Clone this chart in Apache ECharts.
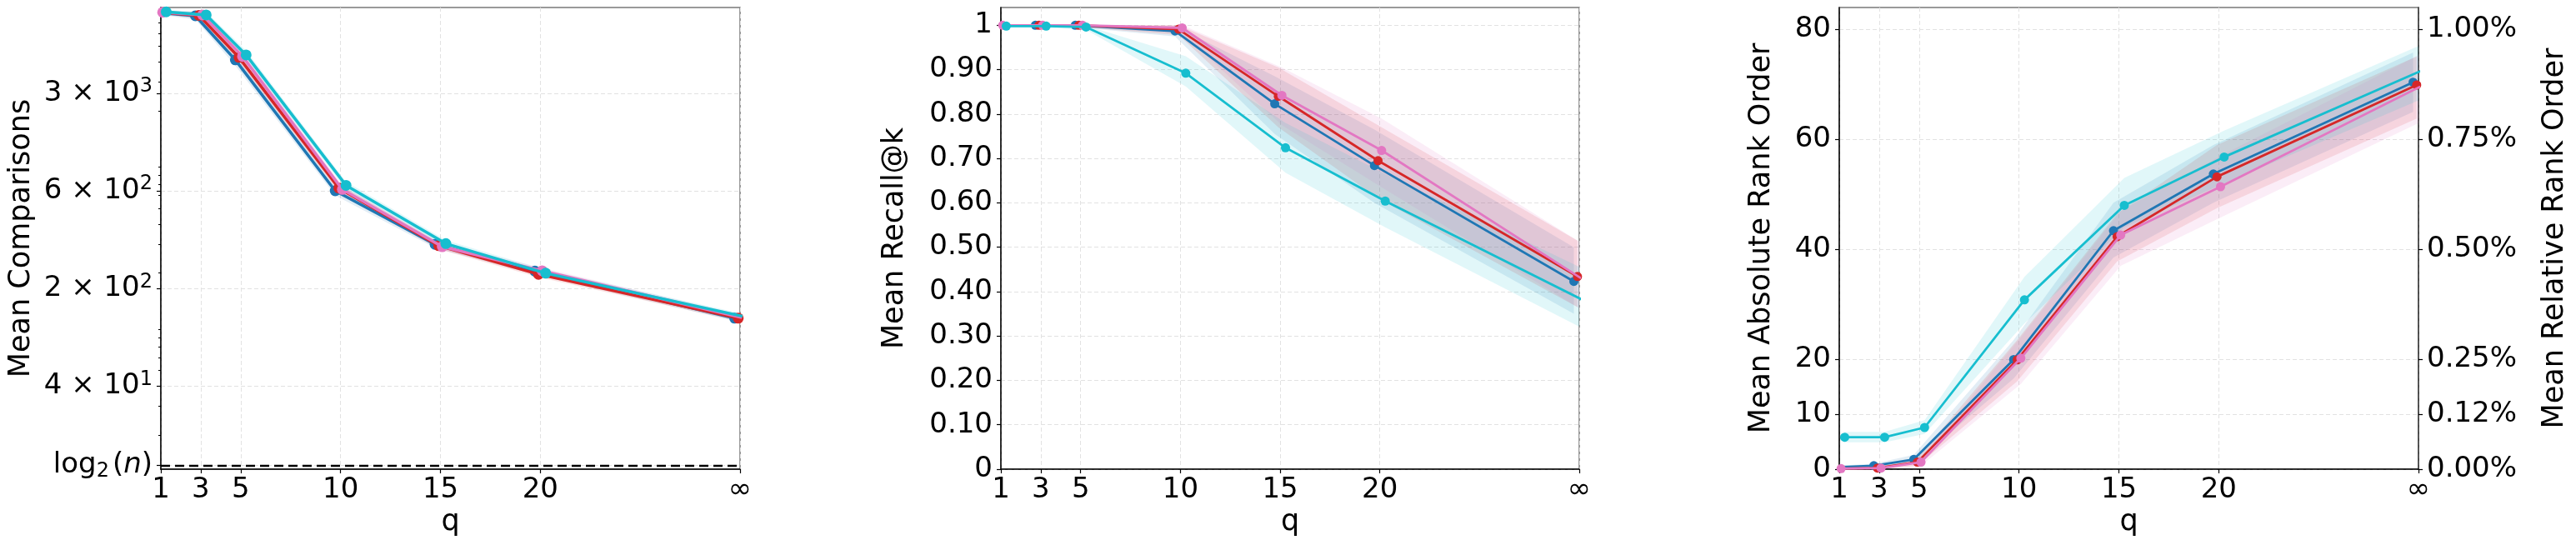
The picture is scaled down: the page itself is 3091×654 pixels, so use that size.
<!DOCTYPE html>
<html><head><meta charset="utf-8">
<script src="https://cdn.jsdelivr.net/npm/echarts@6/dist/echarts.min.js"></script>
<style>html,body{margin:0;padding:0;background:#fff;}#c{width:3091px;height:654px;}</style>
</head><body><div id="c"></div>
<script>
// ---------- shared x categories ----------
const Q_POS = [1, 3, 5, 10, 15, 20, 30];
const Q_LABELS = ['1', '3', '5', '10', '15', '20', '∞'];
const SERIES_NAMES = ['Method A', 'Method B', 'Method C', 'Method D'];
const LOG2N = 12.97;

// ---------- panel 1: Mean Comparisons (log) ----------
const COMP_TICKS = [LOG2N, 40, 160, 640, 2560];
const COMP_TICK_LABELS = ['log2(n)', '4 × 10^1', '2 × 10^2', '6 × 10^2', '3 × 10^3'];
const COMP_MINOR_TICKS = [20, 30, 50, 60, 70, 80, 90, 200, 300, 400, 500, 600, 700, 800, 900, 2000, 3000, 4000, 5000, 6000, 7000, 8000];
const COMP_A = [8100, 7700, 4120, 641, 300, 205, 105];
const COMP_B = [8100, 7750, 4270, 667, 294, 196, 105];
const COMP_C = [8100, 7800, 4330, 654, 290, 206, 106];
const COMP_D = [8150, 7800, 4420, 693, 303, 199, 107];
const COMP_A_LO = [7900, 7300, 3800, 600, 285, 196, 101];
const COMP_A_HI = [8300, 8100, 4450, 685, 316, 214, 109];
const COMP_B_LO = [7900, 7400, 4000, 630, 280, 188, 101];
const COMP_B_HI = [8300, 8100, 4550, 705, 308, 205, 109];
const COMP_C_LO = [7900, 7450, 4050, 620, 276, 196, 102];
const COMP_C_HI = [8300, 8150, 4600, 690, 304, 215, 110];
const COMP_D_LO = [7950, 7450, 4150, 655, 288, 190, 103];
const COMP_D_HI = [8350, 8150, 4700, 730, 318, 208, 111];

// ---------- panel 2: Mean Recall@k ----------
const RECALL_TICKS = [0, 0.1, 0.2, 0.3, 0.4, 0.5, 0.6, 0.7, 0.8, 0.9, 1.0];
const RECALL_TICK_LABELS = ['0', '0.10', '0.20', '0.30', '0.40', '0.50', '0.60', '0.70', '0.80', '0.90', '1'];
const RECALL_A = [1.0, 1.0, 1.0, 0.987, 0.823, 0.684, 0.423];
const RECALL_B = [1.0, 1.0, 1.0, 0.991, 0.840, 0.695, 0.434];
const RECALL_C = [1.0, 1.0, 1.0, 0.994, 0.842, 0.718, 0.430];
const RECALL_D = [0.998, 0.998, 0.996, 0.892, 0.724, 0.604, 0.379];
const RECALL_A_LO = [1.0, 0.997, 0.996, 0.975, 0.755, 0.600, 0.350];
const RECALL_A_HI = [1.0, 1.0, 1.0, 0.998, 0.885, 0.765, 0.500];
const RECALL_B_LO = [1.0, 0.997, 0.996, 0.978, 0.770, 0.610, 0.365];
const RECALL_B_HI = [1.0, 1.0, 1.0, 1.0, 0.905, 0.775, 0.515];
const RECALL_C_LO = [1.0, 0.997, 0.996, 0.982, 0.775, 0.635, 0.360];
const RECALL_C_HI = [1.0, 1.0, 1.0, 1.0, 0.905, 0.790, 0.510];
const RECALL_D_LO = [0.995, 0.995, 0.990, 0.862, 0.668, 0.545, 0.315];
const RECALL_D_HI = [1.0, 1.0, 0.999, 0.930, 0.780, 0.665, 0.450];

// ---------- panel 3: Mean Absolute / Relative Rank Order ----------
const RANK_TICKS = [0, 10, 20, 40, 60, 80];
const RANK_TICK_LABELS = ['0', '10', '20', '40', '60', '80'];
const REL_TICK_LABELS = ['0.00%', '0.12%', '0.25%', '0.50%', '0.75%', '1.00%'];
const RANK_A = [0.32, 0.64, 1.77, 19.95, 43.4, 53.7, 70.4];
const RANK_B = [0.1, 0.2, 1.27, 19.9, 42.3, 53.2, 69.9];
const RANK_C = [0.1, 0.2, 1.27, 20.2, 42.6, 51.4, 69.6];
const RANK_D = [5.81, 5.81, 7.58, 30.8, 48.0, 56.8, 72.7];
const RANK_A_LO = [0.1, 0.3, 1.0, 16.5, 38.5, 48.5, 65.0];
const RANK_A_HI = [0.6, 1.0, 2.6, 23.5, 48.5, 59.0, 75.8];
const RANK_B_LO = [0.0, 0.0, 0.6, 16.0, 37.8, 47.5, 63.8];
const RANK_B_HI = [0.3, 0.5, 2.0, 23.5, 46.5, 59.0, 75.1];
const RANK_C_LO = [0.0, 0.0, 0.6, 15.5, 37.0, 45.8, 63.1];
const RANK_C_HI = [0.3, 0.5, 2.0, 24.0, 47.0, 57.0, 75.5];
const RANK_D_LO = [4.9, 4.9, 6.4, 26.5, 44.0, 52.0, 67.5];
const RANK_D_HI = [6.8, 6.8, 8.9, 35.0, 53.0, 61.6, 77.4];

// ---------- styling (not data) ----------
const COLORS = ['#1f77b4', '#d62728', '#e377c2', '#17becf'];
const DODGE = [-0.27, -0.09, 0.09, 0.27];
const FONT = 'DejaVu Sans';
const FS = 34;
const NFS = 35;
const GRID_LINE = { show: true, lineStyle: { color: '#e2e2e2', type: [5, 3], width: 1 } };

const chart = echarts.init(document.getElementById('c'), null, { renderer: 'canvas' });

const grids = [
  { left: 193, top: 9, width: 695, height: 554 },
  { left: 1201, top: 9, width: 694, height: 554 },
  { left: 2207, top: 9, width: 695, height: 554 }
].map(g => Object.assign(g, { show: true, borderColor: '#7a7a7a', borderWidth: 1.5, containLabel: false }));

function xAxisFor(i) {
  return {
    type: 'value', gridIndex: i, min: 1, max: 30, name: 'q', nameLocation: 'middle', nameGap: 39,
    nameTextStyle: { fontFamily: FONT, fontSize: NFS, color: '#000' },
    axisLine: { show: true, onZero: false, lineStyle: { color: '#000', width: 1.5 } },
    axisTick: { show: true, customValues: Q_POS, length: 5, lineStyle: { color: '#000', width: 1.2 } },
    axisLabel: { show: true, customValues: Q_POS, margin: 8, fontFamily: FONT, fontSize: FS, color: '#000',
      formatter: v => Q_LABELS[Q_POS.indexOf(v)] },
    splitLine: GRID_LINE
  };
}

const RICH = {
  a: { fontFamily: FONT, fontSize: FS, color: '#000' },
  sup: { fontFamily: FONT, fontSize: 24, color: '#000', padding: [0, 0, 16, 0] },
  sub: { fontFamily: FONT, fontSize: 24, color: '#000', padding: [14, 4, 0, 0] },
  i: { fontFamily: FONT, fontSize: FS, fontStyle: 'italic', color: '#000' }
};
function compLabel(v) {
  const idx = COMP_TICKS.findIndex(t => Math.abs(t - v) < 1e-6);
  const s = COMP_TICK_LABELS[idx];
  if (s === 'log2(n)') return '{a|log}{sub|2}{a|(}{i|n}{a|)}';
  const parts = s.split('^');
  return '{a|' + parts[0] + '}{sup|' + parts[1] + '}';
}

const baseY = {
  axisLine: { show: true, onZero: false, lineStyle: { color: '#000', width: 1.5 } },
  nameLocation: 'middle', nameRotate: 90,
  nameTextStyle: { fontFamily: FONT, fontSize: NFS, color: '#000' }
};

const yAxes = [
  Object.assign({}, baseY, {
    type: 'log', logBase: 10, gridIndex: 0, min: 12.3, max: 8670, position: 'left',
    name: 'Mean Comparisons', nameGap: 150,
    axisTick: { show: true, customValues: COMP_TICKS, length: 5, lineStyle: { color: '#000', width: 1.2 } },
    axisLabel: { show: true, customValues: COMP_TICKS, margin: 10, formatter: compLabel, rich: RICH,
      fontFamily: FONT, fontSize: FS, color: '#000' },
    splitLine: GRID_LINE
  }),
  {
    type: 'log', logBase: 10, gridIndex: 0, min: 12.3, max: 8670, position: 'left',
    axisLine: { show: false },
    axisTick: { show: true, customValues: COMP_MINOR_TICKS, length: 3, lineStyle: { color: '#000', width: 1 } },
    axisLabel: { show: false }, splitLine: { show: false }
  },
  Object.assign({}, baseY, {
    type: 'value', gridIndex: 1, min: 0, max: 1.04, position: 'left',
    name: 'Mean Recall@k', nameGap: 110,
    axisTick: { show: true, customValues: RECALL_TICKS, length: 5, lineStyle: { color: '#000', width: 1.2 } },
    axisLabel: { show: true, customValues: RECALL_TICKS, margin: 10, fontFamily: FONT, fontSize: FS, color: '#000',
      formatter: v => RECALL_TICK_LABELS[RECALL_TICKS.findIndex(t => Math.abs(t - v) < 1e-9)] },
    splitLine: GRID_LINE
  }),
  Object.assign({}, baseY, {
    type: 'value', gridIndex: 2, min: 0, max: 84, position: 'left',
    name: 'Mean Absolute Rank Order', nameGap: 76,
    axisTick: { show: true, customValues: RANK_TICKS, length: 5, lineStyle: { color: '#000', width: 1.2 } },
    axisLabel: { show: true, customValues: RANK_TICKS, margin: 10, fontFamily: FONT, fontSize: FS, color: '#000',
      formatter: v => RANK_TICK_LABELS[RANK_TICKS.indexOf(v)] },
    splitLine: GRID_LINE
  }),
  Object.assign({}, baseY, {
    type: 'value', gridIndex: 2, min: 0, max: 84, position: 'right',
    name: 'Mean Relative Rank Order', nameGap: 146,
    axisLine: { show: true, onZero: false, lineStyle: { color: '#333', width: 1.5 } },
    axisTick: { show: true, customValues: RANK_TICKS, length: 5, lineStyle: { color: '#000', width: 1.2 } },
    axisLabel: { show: true, customValues: RANK_TICKS, margin: 10, fontFamily: FONT, fontSize: FS, color: '#000',
      formatter: v => REL_TICK_LABELS[RANK_TICKS.indexOf(v)] },
    splitLine: { show: false }
  })
];

const PANELS = [
  { xi: 0, yi: 0, means: [COMP_A, COMP_B, COMP_C, COMP_D],
    lo: [COMP_A_LO, COMP_B_LO, COMP_C_LO, COMP_D_LO], hi: [COMP_A_HI, COMP_B_HI, COMP_C_HI, COMP_D_HI], lw: 3.5, ss: 13 },
  { xi: 1, yi: 2, means: [RECALL_A, RECALL_B, RECALL_C, RECALL_D],
    lo: [RECALL_A_LO, RECALL_B_LO, RECALL_C_LO, RECALL_D_LO], hi: [RECALL_A_HI, RECALL_B_HI, RECALL_C_HI, RECALL_D_HI], lw: 2.8, ss: 11 },
  { xi: 2, yi: 3, means: [RANK_A, RANK_B, RANK_C, RANK_D],
    lo: [RANK_A_LO, RANK_B_LO, RANK_C_LO, RANK_D_LO], hi: [RANK_A_HI, RANK_B_HI, RANK_C_HI, RANK_D_HI], lw: 2.8, ss: 11 }
];

function bandRenderer(color) {
  return function (params, api) {
    if (params.dataIndexInside !== 0) return null;
    const n = params.dataInsideLength;
    const upper = [], lower = [];
    for (let i = 0; i < n; i++) {
      const x = api.value(0, i);
      upper.push(api.coord([x, api.value(2, i)]));
      lower.push(api.coord([x, api.value(1, i)]));
    }
    const pts = upper.concat(lower.reverse());
    const cs = params.coordSys;
    return {
      type: 'polygon',
      shape: { points: pts },
      style: { fill: color, opacity: 0.13 },
      clipPath: { type: 'rect', shape: { x: cs.x, y: cs.y, width: cs.width, height: cs.height } },
      silent: true
    };
  };
}

const series = [];
PANELS.forEach((p, pi) => {
  for (let s = 0; s < 4; s++) {
    const xs = Q_POS.map(q => q + DODGE[s]);
    series.push({
      type: 'custom', name: SERIES_NAMES[s] + ' band', xAxisIndex: p.xi, yAxisIndex: p.yi,
      data: xs.map((x, k) => [x, p.lo[s][k], p.hi[s][k]]),
      encode: { x: 0, y: [1, 2] }, renderItem: bandRenderer(COLORS[s]), z: 1, silent: true, animation: false
    });
  }
});
PANELS.forEach((p, pi) => {
  for (let s = 0; s < 4; s++) {
    const xs = Q_POS.map(q => q + DODGE[s]);
    const ser = {
      type: 'line', name: SERIES_NAMES[s], xAxisIndex: p.xi, yAxisIndex: p.yi,
      data: xs.map((x, k) => [x, p.means[s][k]]),
      symbol: 'circle', symbolSize: p.ss, showSymbol: true, z: 3 + s,
      itemStyle: { color: COLORS[s] }, lineStyle: { color: COLORS[s], width: p.lw },
      clip: true, animation: false, emphasis: { disabled: true }
    };
    if (pi === 0 && s === 0) {
      ser.markLine = {
        silent: true, symbol: ['none', 'none'], label: { show: false }, animation: false,
        lineStyle: { color: '#000', type: [11, 6], width: 2.3 },
        data: [{ yAxis: LOG2N }]
      };
    }
    series.push(ser);
  }
});

chart.setOption({
  animation: false,
  backgroundColor: '#fff',
  grid: grids,
  xAxis: [xAxisFor(0), xAxisFor(1), xAxisFor(2)],
  yAxis: yAxes,
  series: series
});
</script></body></html>
